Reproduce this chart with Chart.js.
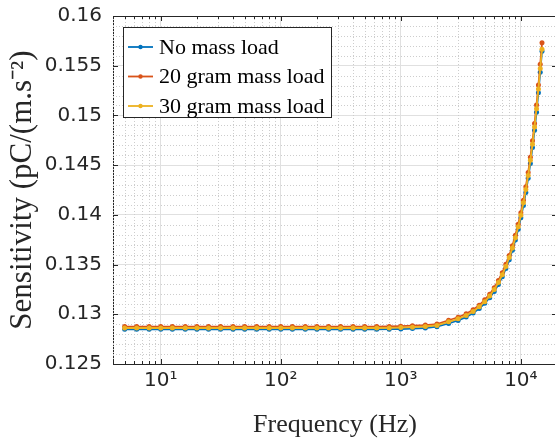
<!DOCTYPE html>
<html>
<head>
<meta charset="utf-8">
<script src="https://cdn.jsdelivr.net/npm/chart.js@4"></script>
<style>
  html, body { margin: 0; padding: 0; background: #fff; overflow: hidden; }
  #wrap { width: 555px; height: 441px; overflow: hidden; }
  canvas { display: block; }
</style>
</head>
<body>
<div id="wrap"><canvas id="chart" width="570" height="441"></canvas></div>
<script>
// frequencies in Hz (third-octave up to 2 kHz, then 500 Hz steps)
const frequencies = [
  5, 6.3, 8, 10, 12.5, 16, 20, 25, 31.5, 40,
  50, 63, 80, 100, 125, 160, 200, 250, 315, 400,
  500, 630, 800, 1000, 1250, 1600, 2000,
  2500, 3000, 3500, 4000, 4500, 5000, 5500, 6000, 6500, 7000,
  7500, 8000, 8500, 9000, 9500, 10000, 10500, 11000, 11500, 12000,
  12500, 13000, 13500, 14000, 14500, 15000
];

const noLoad = [
  0.12849, 0.12849, 0.12849, 0.12849, 0.12849, 0.12849, 0.12849, 0.12849, 0.12849, 0.12849,
  0.12849, 0.12849, 0.12849, 0.12849, 0.12849, 0.12849, 0.12849, 0.12849, 0.12849, 0.12849,
  0.12849, 0.12849, 0.12850, 0.12852, 0.12856, 0.12862, 0.12875,
  0.12908, 0.12938, 0.12972, 0.13012, 0.13058, 0.13110, 0.13166, 0.13230, 0.13300, 0.13377,
  0.13460, 0.13548, 0.13644, 0.13746, 0.13855, 0.13970, 0.14094, 0.14226, 0.14367, 0.14517,
  0.14678, 0.14850, 0.15032, 0.15228, 0.15434, 0.15645
];

const load20 = [
  0.12876, 0.12876, 0.12876, 0.12876, 0.12876, 0.12876, 0.12876, 0.12876, 0.12876, 0.12876,
  0.12876, 0.12876, 0.12876, 0.12876, 0.12876, 0.12876, 0.12876, 0.12876, 0.12876, 0.12876,
  0.12876, 0.12876, 0.12877, 0.12880, 0.12885, 0.12892, 0.12902,
  0.12940, 0.12970, 0.13005, 0.13045, 0.13092, 0.13145, 0.13202, 0.13268, 0.13340, 0.13418,
  0.13502, 0.13592, 0.13690, 0.13795, 0.13905, 0.14022, 0.14148, 0.14283, 0.14427, 0.14580,
  0.14745, 0.14920, 0.15105, 0.15305, 0.15515, 0.15730
];

const load30 = [
  0.12862, 0.12862, 0.12862, 0.12862, 0.12862, 0.12862, 0.12862, 0.12862, 0.12862, 0.12862,
  0.12862, 0.12862, 0.12862, 0.12862, 0.12862, 0.12862, 0.12862, 0.12862, 0.12862, 0.12862,
  0.12862, 0.12862, 0.12863, 0.12866, 0.12870, 0.12877, 0.12888,
  0.12924, 0.12954, 0.12988, 0.13028, 0.13075, 0.13127, 0.13184, 0.13249, 0.13320, 0.13397,
  0.13481, 0.13570, 0.13667, 0.13770, 0.13880, 0.13996, 0.14121, 0.14254, 0.14396, 0.14548,
  0.14711, 0.14884, 0.15067, 0.15265, 0.15473, 0.15665
];

const seriesNames = ["No mass load", "20 gram mass load", "30 gram mass load"];
const COLORS = ["#0072BD", "#D95319", "#EDB120"];
const xRange = [4, 20000];
const yRange = [0.125, 0.16];
const yStep = 0.005;
const SUP = ["\u2070", "\u00B9", "\u00B2", "\u00B3", "\u2074"];

const isDecade = v => Math.abs(Math.log10(v) - Math.round(Math.log10(v))) < 1e-9;
const toPoints = vals => frequencies.map((f, i) => ({ x: f, y: vals[i] }));

// minor dotted grid, top box edge and inward ticks (MATLAB look)
const axesDecor = {
  id: "axesDecor",
  beforeDatasetsDraw(chart) {
    const { ctx, chartArea: a, scales: { x, y } } = chart;
    ctx.save();
    ctx.strokeStyle = "#cdcdcd";
    ctx.lineWidth = 1;
    ctx.setLineDash([1, 2]);
    ctx.beginPath();
    for (let e = 0; e <= 4; e++) {
      for (let m = 2; m <= 9; m++) {
        const v = m * Math.pow(10, e);
        if (v < xRange[0] || v >= xRange[1]) continue;
        const px = Math.round(x.getPixelForValue(v)) + 0.5;
        ctx.moveTo(px, a.top); ctx.lineTo(px, a.bottom);
      }
    }
    for (let v = yRange[0] + 0.001; v < yRange[1] - 0.0005; v += 0.001) {
      const k = Math.round(v * 1000);
      if (k % 5 === 0) continue;
      const py = Math.round(y.getPixelForValue(k / 1000)) + 0.5;
      ctx.moveTo(a.left, py); ctx.lineTo(a.right, py);
    }
    ctx.stroke();
    ctx.setLineDash([]);

    ctx.strokeStyle = "#262626";
    ctx.beginPath();
    ctx.moveTo(a.left, a.top + 0.5); ctx.lineTo(a.right, a.top + 0.5);
    ctx.moveTo(a.right - 0.5, a.top); ctx.lineTo(a.right - 0.5, a.bottom);
    for (let e = 0; e <= 4; e++) {
      for (let m = 1; m <= 9; m++) {
        const v = m * Math.pow(10, e);
        if (v < xRange[0] || v > xRange[1]) continue;
        const len = m === 1 ? 5 : 3;
        const px = Math.round(x.getPixelForValue(v)) + 0.5;
        ctx.moveTo(px, a.bottom); ctx.lineTo(px, a.bottom - len);
        ctx.moveTo(px, a.top); ctx.lineTo(px, a.top + len);
      }
    }
    for (let k = 0; k <= Math.round((yRange[1] - yRange[0]) / yStep); k++) {
      const py = Math.round(y.getPixelForValue(yRange[0] + k * yStep)) + 0.5;
      ctx.moveTo(a.left, py); ctx.lineTo(a.left + 5, py);
      ctx.moveTo(a.right, py); ctx.lineTo(a.right - 5, py);
    }
    ctx.stroke();
    ctx.restore();
  }
};

// boxed legend inside the plot, upper left
const boxLegend = {
  id: "boxLegend",
  afterDatasetsDraw(chart) {
    const { ctx, chartArea: a } = chart;
    const left = a.left + 10, top = a.top + 11, w = 208, h = 90;
    ctx.save();
    ctx.fillStyle = "#fff";
    ctx.fillRect(left, top, w, h);
    ctx.strokeStyle = "#262626";
    ctx.lineWidth = 1;
    ctx.strokeRect(left + 0.5, top + 0.5, w, h);
    ctx.font = "22px 'Liberation Serif'";
    ctx.textBaseline = "middle";
    chart.data.datasets.forEach((ds, i) => {
      const cy = top + 20 + i * 29.5;
      ctx.strokeStyle = ds.borderColor;
      ctx.lineWidth = 1.8;
      ctx.beginPath(); ctx.moveTo(left + 5, cy); ctx.lineTo(left + 30, cy); ctx.stroke();
      ctx.fillStyle = ds.borderColor;
      ctx.beginPath(); ctx.arc(left + 17.5, cy, 2.2, 0, Math.PI * 2); ctx.fill();
      ctx.fillStyle = "#000";
      ctx.fillText(ds.label, left + 36, cy + 1);
    });
    ctx.restore();
  }
};

const ctx = document.getElementById("chart").getContext("2d");
const chart = new Chart(ctx, {
  type: "line",
  data: {
    datasets: [
      { label: seriesNames[0], data: toPoints(noLoad), borderColor: COLORS[0], backgroundColor: COLORS[0], order: 3 },
      { label: seriesNames[1], data: toPoints(load20), borderColor: COLORS[1], backgroundColor: COLORS[1], order: 2 },
      { label: seriesNames[2], data: toPoints(load30), borderColor: COLORS[2], backgroundColor: COLORS[2], order: 1 }
    ]
  },
  options: {
    responsive: false,
    animation: false,
    layout: { padding: { top: 16, right: 13, left: 0, bottom: 0 } },
    elements: {
      line: { borderWidth: 1.8, tension: 0 },
      point: { radius: 2.5, borderWidth: 0, hoverRadius: 2.5 }
    },
    plugins: { legend: { display: false }, tooltip: { enabled: false } },
    scales: {
      x: {
        type: "logarithmic",
        min: xRange[0],
        max: xRange[1],
        border: { color: "#262626", width: 1 },
        grid: {
          drawTicks: true,
          tickLength: 5,
          tickColor: "rgba(0,0,0,0)",
          color: c => (c.tick && isDecade(c.tick.value)) ? "#e0e0e0" : "rgba(0,0,0,0)"
        },
        ticks: {
          autoSkip: false,
          maxRotation: 0,
          padding: 0,
          color: "#262626",
          font: { family: "DejaVu Sans", size: 20 },
          callback: v => isDecade(v) ? "10" + SUP[Math.round(Math.log10(v))] : ""
        },
        title: {
          display: true,
          text: "Frequency (Hz)",
          color: "#262626",
          font: { family: "Liberation Serif", size: 26 },
          padding: { top: 0, bottom: 0 }
        },
        afterFit: s => { s.height = 77; }
      },
      y: {
        min: yRange[0],
        max: yRange[1],
        border: { color: "#262626", width: 1 },
        grid: { drawTicks: true, tickLength: 11, tickColor: "rgba(0,0,0,0)", color: "#e0e0e0" },
        ticks: {
          stepSize: yStep,
          padding: 0,
          color: "#262626",
          font: { family: "DejaVu Sans", size: 20 },
          callback: v => String(+v.toFixed(3))
        },
        title: {
          display: true,
          text: "Sensitivity (pC/(m.s\u207B\u00B2)",
          color: "#262626",
          font: { family: "Liberation Serif", size: 31 },
          padding: { top: 4, bottom: 0 }
        },
        afterFit: s => { s.width = 113; }
      }
    }
  },
  plugins: [axesDecor, boxLegend]
});
</script>
</body>
</html>
